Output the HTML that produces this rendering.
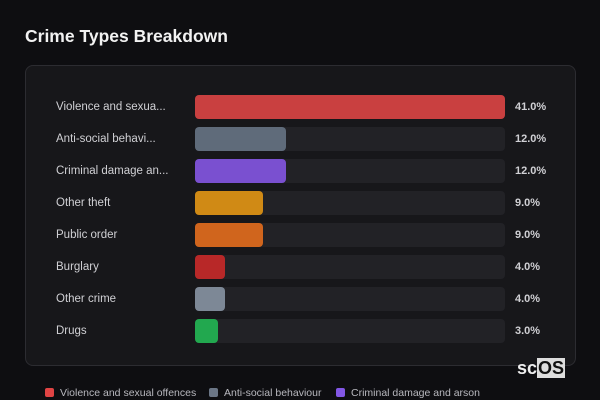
<!DOCTYPE html><html><head><style>
body{margin:0;width:600px;height:400px;background:#0e0e11;font-family:"Liberation Sans",sans-serif;position:relative;overflow:hidden;color:#ddd}
.t{position:absolute;left:25px;top:26px;font-size:17.5px;font-weight:bold;color:#f2f2f2}
.p{position:absolute;left:25px;top:65px;width:549px;height:299px;border:1px solid #2c2c31;border-radius:8px;background:#17171a}
.r{position:absolute;left:0;width:550px;height:24px}
.l{position:absolute;left:30px;top:6px;font-size:11.5px;color:#d0d0d4}
.k{position:absolute;left:169px;top:0;width:310px;height:24px;background:#222226;border-radius:4px}
.b{position:absolute;left:0;top:0;height:24px;border-radius:4px}
.v{position:absolute;left:489px;top:6px;font-size:11px;font-weight:bold;color:#d0d0d4}
.lg{position:absolute;top:387px;font-size:10.5px;color:#b8b8be}
.sq{position:absolute;top:388px;width:9px;height:9px;border-radius:2px}
</style></head><body>
<div class="t">Crime Types Breakdown</div>
<div class="p">
<div class="r" style="top:29px"><div class="l">Violence and sexua...</div><div class="k"><div class="b" style="width:310px;background:#c94040"></div></div><div class="v">41.0%</div></div>
<div class="r" style="top:61px"><div class="l">Anti-social behavi...</div><div class="k"><div class="b" style="width:91px;background:#5f6b7a"></div></div><div class="v">12.0%</div></div>
<div class="r" style="top:93px"><div class="l">Criminal damage an...</div><div class="k"><div class="b" style="width:91px;background:#7a50d0"></div></div><div class="v">12.0%</div></div>
<div class="r" style="top:125px"><div class="l">Other theft</div><div class="k"><div class="b" style="width:68px;background:#d08a15"></div></div><div class="v">9.0%</div></div>
<div class="r" style="top:157px"><div class="l">Public order</div><div class="k"><div class="b" style="width:68px;background:#d0651d"></div></div><div class="v">9.0%</div></div>
<div class="r" style="top:189px"><div class="l">Burglary</div><div class="k"><div class="b" style="width:30px;background:#b82828"></div></div><div class="v">4.0%</div></div>
<div class="r" style="top:221px"><div class="l">Other crime</div><div class="k"><div class="b" style="width:30px;background:#7d8896"></div></div><div class="v">4.0%</div></div>
<div class="r" style="top:253px"><div class="l">Drugs</div><div class="k"><div class="b" style="width:23px;background:#22a84f"></div></div><div class="v">3.0%</div></div>
</div>
<div style="position:absolute;left:517px;top:358px;font-size:18px;font-weight:bold;color:#eee">sc<span style="background:#ddd;color:#111;padding:0 1px">OS</span></div>
<div class="sq" style="left:45px;background:#e04444"></div><div class="lg" style="left:60px">Violence and sexual offences</div>
<div class="sq" style="left:209px;background:#6b7686"></div><div class="lg" style="left:224px">Anti-social behaviour</div>
<div class="sq" style="left:336px;background:#8257e5"></div><div class="lg" style="left:351px">Criminal damage and arson</div>
</body></html>
